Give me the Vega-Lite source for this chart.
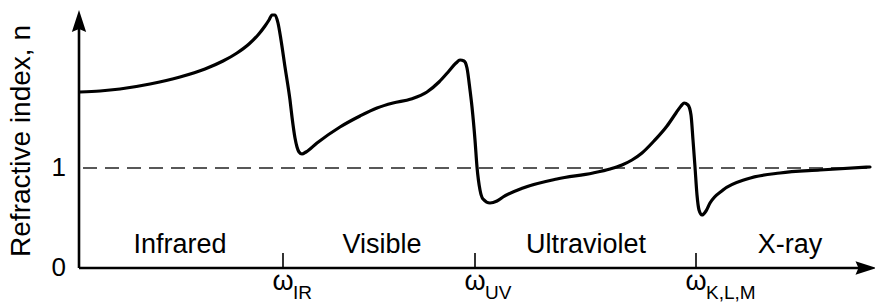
{
  "$schema": "https://vega.github.io/schema/vega-lite/v6.json",
  "width": 875,
  "height": 304,
  "padding": 0,
  "autosize": {"type": "none"},
  "background": "white",
  "config": {"view": {"stroke": null}, "font": "Liberation Sans"},
  "datasets": {
    "curve": [
      {"w": 1, "n": 1.76}, {"w": 21, "n": 1.77}, {"w": 41, "n": 1.79}, {"w": 71, "n": 1.84},
      {"w": 101, "n": 1.91}, {"w": 126, "n": 1.99}, {"w": 144, "n": 2.07}, {"w": 158, "n": 2.15},
      {"w": 170, "n": 2.24}, {"w": 179, "n": 2.33}, {"w": 186, "n": 2.42}, {"w": 190, "n": 2.48},
      {"w": 193, "n": 2.53}, {"w": 196, "n": 2.53}, {"w": 199, "n": 2.45}, {"w": 202, "n": 2.28},
      {"w": 206, "n": 2.01}, {"w": 211, "n": 1.68}, {"w": 213, "n": 1.51}, {"w": 216, "n": 1.30},
      {"w": 218, "n": 1.21}, {"w": 220, "n": 1.16}, {"w": 223, "n": 1.14}, {"w": 227, "n": 1.16},
      {"w": 238, "n": 1.25}, {"w": 261, "n": 1.41}, {"w": 281, "n": 1.52}, {"w": 298, "n": 1.60},
      {"w": 314, "n": 1.65}, {"w": 332, "n": 1.69}, {"w": 348, "n": 1.76}, {"w": 360, "n": 1.86},
      {"w": 370, "n": 1.97}, {"w": 377, "n": 2.05}, {"w": 381, "n": 2.08}, {"w": 385, "n": 2.07},
      {"w": 388, "n": 2.00}, {"w": 391, "n": 1.78}, {"w": 393, "n": 1.61}, {"w": 396, "n": 1.28},
      {"w": 398, "n": 1.01}, {"w": 401, "n": 0.78}, {"w": 404, "n": 0.69}, {"w": 411, "n": 0.65},
      {"w": 418, "n": 0.67}, {"w": 424, "n": 0.71}, {"w": 444, "n": 0.80}, {"w": 478, "n": 0.89},
      {"w": 514, "n": 0.95}, {"w": 531, "n": 0.99}, {"w": 543, "n": 1.03}, {"w": 553, "n": 1.08},
      {"w": 563, "n": 1.15}, {"w": 575, "n": 1.27}, {"w": 588, "n": 1.42}, {"w": 597, "n": 1.55},
      {"w": 602, "n": 1.62}, {"w": 605, "n": 1.65}, {"w": 609, "n": 1.63}, {"w": 612, "n": 1.53},
      {"w": 614, "n": 1.28}, {"w": 616, "n": 1.01}, {"w": 618, "n": 0.73}, {"w": 620, "n": 0.58},
      {"w": 623, "n": 0.53}, {"w": 627, "n": 0.57}, {"w": 631, "n": 0.65}, {"w": 644, "n": 0.78},
      {"w": 668, "n": 0.89}, {"w": 701, "n": 0.95}, {"w": 741, "n": 0.98}, {"w": 791, "n": 1.01}
    ],
    "axes": [
      {"x1": 0, "x2": 0, "y1": 0, "y2": 2.42},
      {"x1": 0, "x2": 782, "y1": 0, "y2": 0}
    ],
    "ticks": [
      {"x1": 204, "y1": 0, "y2": 0.15},
      {"x1": 396, "y1": 0, "y2": 0.15},
      {"x1": 617, "y1": 0, "y2": 0.15}
    ],
    "ref": [{"x1": 4, "x2": 791, "y1": 1}],
    "yarrow": [{"x": 0, "y": 2.47}],
    "xarrow": [{"x": 787, "y": 0}],
    "regions": [
      {"x": 101, "y": 0.15, "label": "Infrared"},
      {"x": 303, "y": 0.15, "label": "Visible"},
      {"x": 507, "y": 0.15, "label": "Ultraviolet"},
      {"x": 711, "y": 0.15, "label": "X-ray"}
    ],
    "nlabels": [
      {"x": -13, "y": 1, "label": "1"},
      {"x": -13, "y": 0, "label": "0"}
    ],
    "omega": [
      {"x": 204, "label": "ω"},
      {"x": 396, "label": "ω"},
      {"x": 617, "label": "ω"}
    ],
    "subs": [
      {"x": 204, "label": "IR"},
      {"x": 396, "label": "UV"},
      {"x": 617, "label": "K,L,M"}
    ],
    "title": [{"x": -57, "y": 1.27, "label": "Refractive index, n"}]
  },
  "layer": [
    {
      "data": {"name": "ref"},
      "mark": {"type": "rule", "strokeWidth": 1.6, "strokeDash": [14, 8], "color": "#222"},
      "encoding": {
        "x": {"field": "x1", "type": "quantitative", "scale": {"domain": [-79, 796], "nice": false, "zero": false}, "axis": null},
        "x2": {"field": "x2"},
        "y": {"field": "y1", "type": "quantitative", "scale": {"domain": [-0.36, 2.68], "nice": false, "zero": false}, "axis": null}
      }
    },
    {
      "data": {"name": "axes"},
      "mark": {"type": "rule", "strokeWidth": 2.6, "color": "black"},
      "encoding": {
        "x": {"field": "x1", "type": "quantitative"},
        "x2": {"field": "x2"},
        "y": {"field": "y1", "type": "quantitative"},
        "y2": {"field": "y2"}
      }
    },
    {
      "data": {"name": "ticks"},
      "mark": {"type": "rule", "strokeWidth": 1.6, "color": "black"},
      "encoding": {
        "x": {"field": "x1", "type": "quantitative"},
        "y": {"field": "y1", "type": "quantitative"},
        "y2": {"field": "y2"}
      }
    },
    {
      "data": {"name": "yarrow"},
      "mark": {"type": "point", "shape": "M0,-1 L0.65,1 L0,0.72 L-0.65,1 Z", "size": 484, "filled": true, "color": "black", "opacity": 1},
      "encoding": {
        "x": {"field": "x", "type": "quantitative"},
        "y": {"field": "y", "type": "quantitative"}
      }
    },
    {
      "data": {"name": "xarrow"},
      "mark": {"type": "point", "shape": "M1,0 L-1,0.65 L-0.72,0 L-1,-0.65 Z", "size": 441, "filled": true, "color": "black", "opacity": 1},
      "encoding": {
        "x": {"field": "x", "type": "quantitative"},
        "y": {"field": "y", "type": "quantitative"}
      }
    },
    {
      "data": {"name": "curve"},
      "mark": {"type": "line", "interpolate": "monotone", "strokeWidth": 3.2, "color": "black", "strokeCap": "round", "strokeJoin": "round"},
      "encoding": {
        "x": {"field": "w", "type": "quantitative"},
        "y": {"field": "n", "type": "quantitative"}
      }
    },
    {
      "data": {"name": "regions"},
      "mark": {"type": "text", "fontSize": 27, "align": "center", "baseline": "alphabetic", "color": "black"},
      "encoding": {
        "x": {"field": "x", "type": "quantitative"},
        "y": {"field": "y", "type": "quantitative"},
        "text": {"field": "label"}
      }
    },
    {
      "data": {"name": "nlabels"},
      "mark": {"type": "text", "fontSize": 26, "align": "right", "baseline": "middle", "color": "black"},
      "encoding": {
        "x": {"field": "x", "type": "quantitative"},
        "y": {"field": "y", "type": "quantitative"},
        "text": {"field": "label"}
      }
    },
    {
      "data": {"name": "omega"},
      "mark": {"type": "text", "fontSize": 27, "align": "center", "baseline": "alphabetic", "color": "black", "y": 290},
      "encoding": {
        "x": {"field": "x", "type": "quantitative"},
        "text": {"field": "label"}
      }
    },
    {
      "data": {"name": "subs"},
      "mark": {"type": "text", "fontSize": 19, "align": "left", "baseline": "alphabetic", "color": "black", "dx": 10, "y": 299},
      "encoding": {
        "x": {"field": "x", "type": "quantitative"},
        "text": {"field": "label"}
      }
    },
    {
      "data": {"name": "title"},
      "mark": {"type": "text", "fontSize": 28, "align": "center", "baseline": "middle", "angle": 270, "color": "black"},
      "encoding": {
        "x": {"field": "x", "type": "quantitative"},
        "y": {"field": "y", "type": "quantitative"},
        "text": {"field": "label"}
      }
    }
  ]
}
